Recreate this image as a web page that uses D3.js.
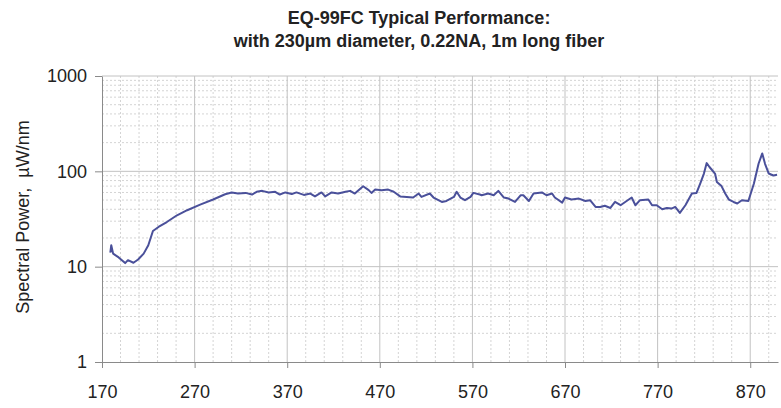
<!DOCTYPE html>
<html>
<head>
<meta charset="utf-8">
<script src="https://cdn.jsdelivr.net/npm/d3@7"></script>
<style>
  body { margin: 0; background: #fff; }
  text { font-family: 'Liberation Sans', Arial, sans-serif; fill: #222; }
</style>
</head>
<body>
<div id="chart"></div>
<script>
// wavelength (nm)
const wavelength = [179, 180, 182, 188, 195, 198, 204, 209, 215, 220, 225, 231, 240, 251, 262, 276, 290,
  303, 310, 317, 325, 332, 337, 343, 350, 357, 362, 368, 375, 380, 388, 395, 400, 407, 411, 418, 425, 433,
  438, 443, 452, 458, 461, 465, 472, 479, 485, 492, 499, 506, 512, 515, 524, 528, 537, 542, 550, 553, 557,
  562, 568, 571, 578, 580, 587, 593, 598, 604, 609, 616, 622, 625, 631, 636, 645, 650, 656, 659, 667, 670,
  677, 685, 692, 697, 703, 708, 713, 719, 724, 730, 735, 742, 746, 751, 760, 764, 769, 775, 780, 785, 789,
  794, 800, 807, 812, 816, 820, 823, 826, 832, 834, 839, 843, 847, 852, 856, 861, 868, 874, 879, 883, 886,
  890, 895, 899]
// spectral power (uW/nm)
const power = [14.0, 16.8, 13.7, 12.5, 10.9, 11.7, 11.0, 11.9, 13.7, 16.8, 23.7, 26.1, 29.4, 34.6, 39.1, 44.8, 50.6,
  57.5, 59.9, 58.5, 59.4, 57.1, 61.0, 62.4, 60.1, 61.0, 57.1, 60.1, 57.9, 60.1, 56.6, 58.5, 54.6, 60.1, 54.6, 60.1, 58.5, 61.0,
  62.4, 58.5, 69.8, 63.5, 59.4, 64.3, 63.5, 64.3, 61.0, 54.6, 53.9, 53.1, 58.5, 53.9, 58.5, 53.1, 47.7, 48.9, 53.9, 61.0, 53.1,
  49.8, 53.9, 59.4, 57.1, 56.1, 58.5, 56.1, 62.4, 53.1, 51.8, 47.7, 56.1, 56.1, 48.9, 58.5, 60.1, 56.1, 58.5, 53.1, 47.0, 53.1,
  50.6, 51.8, 48.9, 49.8, 42.3, 42.3, 43.5, 41.3, 47.7, 44.1, 47.7, 53.1, 44.1, 49.8, 50.6, 44.1, 44.1, 40.0, 41.3, 40.7, 42.3,
  36.6, 44.1, 58.5, 59.4, 74.5, 94.8, 122, 111, 94.8, 77.4, 70.0, 58.5, 50.5, 47.7, 46.0, 49.8, 48.9, 74.5, 120, 154, 120,
  94.8, 90.5, 92.0]

const xTicks = [170, 270, 370, 470, 570, 670, 770, 870]
const yTicks = [1, 10, 100, 1000]
const titleLines = ['EQ-99FC Typical Performance:', 'with 230\u00b5m diameter, 0.22NA, 1m long fiber']
const yLabel = 'Spectral Power,  \u00b5W/nm'

const margin = { top: 76, right: 3, bottom: 46, left: 102 }
const width = 781 - margin.left - margin.right
const height = 408 - margin.top - margin.bottom

const svg = d3.select('#chart')
  .append('svg')
  .attr('width', 781)
  .attr('height', 408)

const g = svg.append('g')
  .attr('transform', `translate(${margin.left}, ${margin.top})`)

const x = d3.scaleLinear()
  .domain([170, 900])
  .range([0, width])

const y = d3.scaleLog()
  .domain([1, 1000])
  .range([height, 0])

// minor grid lines (dotted)
const xMinor = d3.range(190, 900, 20).filter(d => (d - 170) % 100 !== 0)
g.append('g')
  .selectAll('line')
  .data(xMinor)
  .join('line')
  .attr('x1', d => x(d))
  .attr('x2', d => x(d))
  .attr('y1', 0)
  .attr('y2', height)
  .style('stroke', '#d4d4d4')
  .style('stroke-dasharray', '2,2')

const yMinor = []
for (let dec = 1; dec < 1000; dec *= 10) {
  for (let k = 2; k <= 9; k++) yMinor.push(dec * k)
}
g.append('g')
  .selectAll('line')
  .data(yMinor)
  .join('line')
  .attr('x1', 0)
  .attr('x2', width)
  .attr('y1', d => y(d))
  .attr('y2', d => y(d))
  .style('stroke', '#d4d4d4')
  .style('stroke-dasharray', '2,2')

// major grid lines
g.append('g')
  .selectAll('line')
  .data(xTicks.slice(1))
  .join('line')
  .attr('x1', d => x(d))
  .attr('x2', d => x(d))
  .attr('y1', 0)
  .attr('y2', height)
  .style('stroke', '#c2c2c2')

g.append('g')
  .selectAll('line')
  .data(yTicks.slice(1))
  .join('line')
  .attr('x1', 0)
  .attr('x2', width)
  .attr('y1', d => y(d))
  .attr('y2', d => y(d))
  .style('stroke', '#c2c2c2')

// axes
const xAxis = g.append('g')
  .attr('transform', `translate(0, ${height})`)
  .call(d3.axisBottom(x).tickValues(xTicks).tickFormat(d3.format('d')).tickSize(6).tickPadding(17).tickSizeOuter(0))
xAxis.selectAll('text').style('font-size', '18px')

const yAxis = g.append('g')
  .call(d3.axisLeft(y).tickValues(yTicks).tickFormat(d3.format('d')).tickSize(7).tickPadding(8).tickSizeOuter(0))
yAxis.selectAll('text').style('font-size', '18px')

svg.selectAll('.domain, .tick line').style('stroke', '#8a8a8a')

// the spectrum
const data = wavelength.map((w, i) => ({ w, p: power[i] }))
g.append('path')
  .datum(data)
  .attr('d', d3.line()
    .x(d => x(d.w))
    .y(d => y(d.p))
  )
  .style('fill', 'none')
  .style('stroke', '#4a509a')
  .style('stroke-width', 2)
  .style('stroke-linejoin', 'round')

// titles
svg.selectAll('.title')
  .data(titleLines)
  .join('text')
  .attr('class', 'title')
  .attr('x', 419)
  .attr('y', (d, i) => 24 + i * 23)
  .attr('text-anchor', 'middle')
  .style('font-weight', 'bold')
  .style('font-size', '18px')
  .text(d => d)

svg.append('text')
  .attr('transform', 'translate(29, 217) rotate(-90)')
  .attr('text-anchor', 'middle')
  .style('font-size', '18px')
  .style('white-space', 'pre')
  .text(yLabel)
</script>
</body>
</html>
